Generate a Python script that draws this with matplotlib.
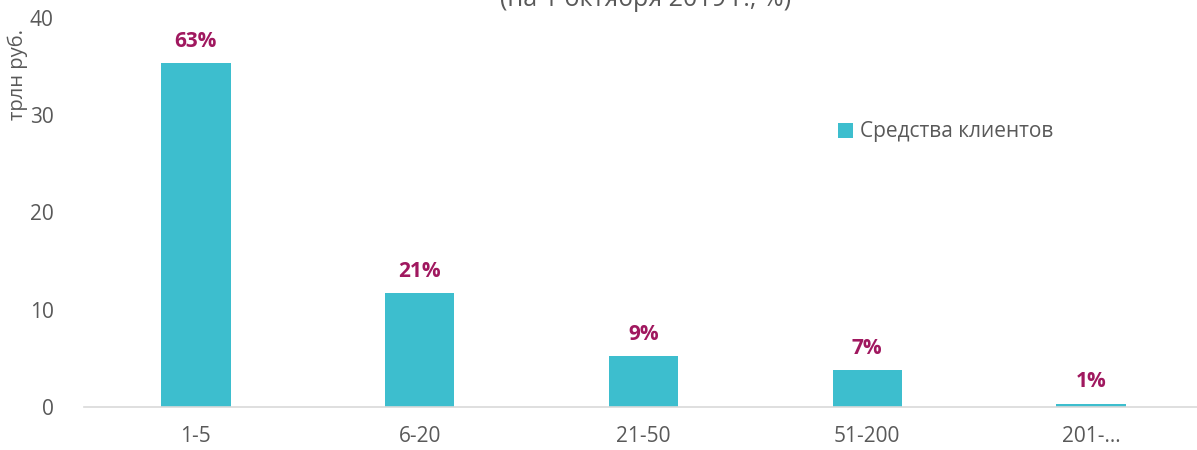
import numpy as np
import matplotlib
matplotlib.use("Agg")
import matplotlib.pyplot as plt

### chart data
categories = ["1-5", "6-20", "21-50", "51-200", "201-..."]
values = [35.4, 11.7, 5.2, 3.8, 0.35]
shares = ["63%", "21%", "9%", "7%", "1%"]
y_ticks = [0, 10, 20, 30, 40]
series_name = "Средства клиентов"
y_label = "трлн руб."
title = "(на 1 октября 2019 г., %)"

plt.rcParams['font.family'] = ['Open Sans', 'DejaVu Sans']
grey = "#595959"
bar_color = "#3DBECE"
label_color = "#A0185F"

fig = plt.figure(figsize=(11.97, 4.5), dpi=100)
ax = fig.add_axes([84 / 1197, 1 - 407 / 450, 1119 / 1197, 389 / 450])

x = np.arange(len(categories))
ax.bar(x, values, width=0.31, color=bar_color, label=series_name, zorder=2)

### value labels above bars
for xi, v, s in zip(x, values, shares):
    ax.annotate(s, (xi, v), xytext=(0, 8), textcoords="offset points",
                ha="center", va="bottom", fontsize=15, fontweight="bold",
                color=label_color)

ax.set_xlim(-0.5, len(categories) - 0.5)
ax.set_ylim(0, 40)
ax.set_yticks(y_ticks)
ax.set_xticks(x)
ax.set_xticklabels(["201-…" if c == "201-..." else c for c in categories])
ax.tick_params(axis="both", length=0, labelsize=15, colors=grey)
ax.tick_params(axis="x", pad=14)
ax.tick_params(axis="y", pad=22)
for side in ["left", "right", "top"]:
    ax.spines[side].set_visible(False)
ax.spines["bottom"].set_color("#D9D9D9")
ax.spines["bottom"].set_linewidth(1.2)

fig.text(18 / 1197, 1 - 74 / 450, y_label, rotation=90, ha="center", va="center",
         fontsize=14.5, color=grey)
fig.text(646 / 1197, 1 - 6 / 450, title, ha="center", va="baseline",
         fontsize=18, color=grey)

leg = ax.legend(loc="center left", bbox_to_anchor=(830 / 1197, 1 - 132 / 450),
                bbox_transform=fig.transFigure, frameon=False, fontsize=15,
                handlelength=0.7, handleheight=0.7, handletextpad=0.35,
                borderaxespad=0)
for t in leg.get_texts():
    t.set_color(grey)

fig.savefig("out.png", dpi=100)
